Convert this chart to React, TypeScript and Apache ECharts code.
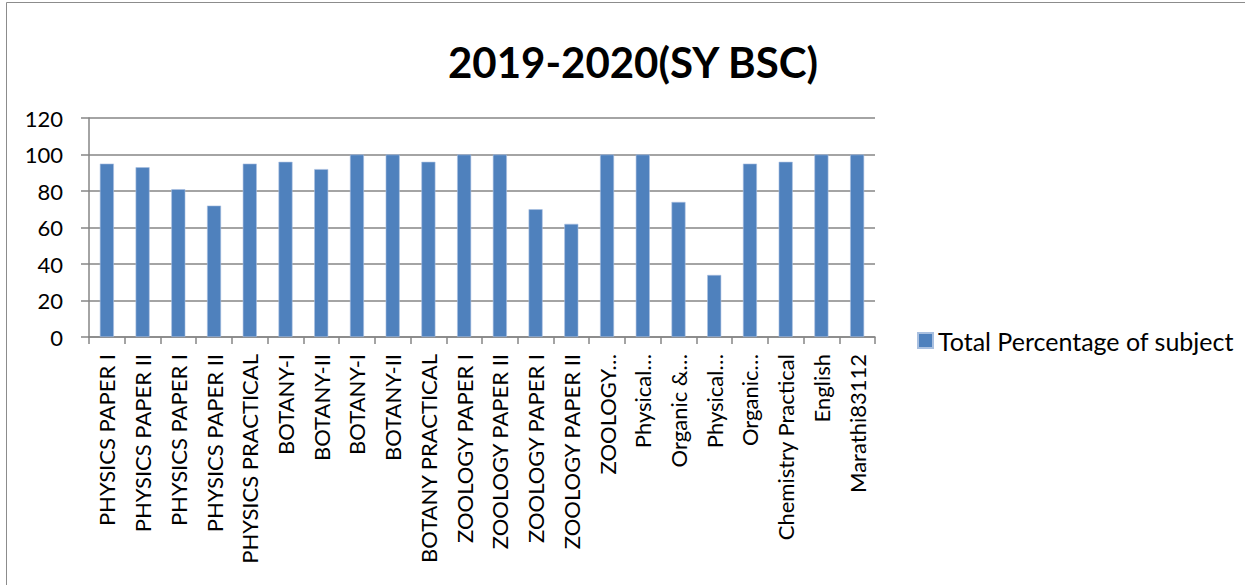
import React, { useEffect, useRef } from "react";
import * as echarts from "echarts";

const titleText = "2019-2020(SY BSC)";
const seriesName = "Total Percentage of subject";
const categories = [
  "PHYSICS PAPER I",
  "PHYSICS PAPER II",
  "PHYSICS PAPER I",
  "PHYSICS PAPER II",
  "PHYSICS PRACTICAL",
  "BOTANY-I",
  "BOTANY-II",
  "BOTANY-I",
  "BOTANY-II",
  "BOTANY PRACTICAL",
  "ZOOLOGY PAPER I",
  "ZOOLOGY PAPER II",
  "ZOOLOGY PAPER I",
  "ZOOLOGY PAPER II",
  "ZOOLOGY…",
  "Physical…",
  "Organic &…",
  "Physical…",
  "Organic…",
  "Chemistry Practical",
  "English",
  "Marathi83112",
];
const values = [95, 93, 81, 72, 95, 96, 92, 100, 100, 96, 100, 100, 70, 62, 100, 100, 74, 34, 95, 96, 100, 100];
const yTicks = { min: 0, max: 120, interval: 20 };

export default function App() {
  const ref = useRef<HTMLDivElement>(null);
  useEffect(() => {
    if (!ref.current) return;
    const chart = echarts.init(ref.current, null, { renderer: "svg" });
    const font = "Lato, 'Open Sans', sans-serif";
    chart.setOption({
      animation: false,
      backgroundColor: "#ffffff",
      graphic: [
        {
          type: "rect",
          shape: { x: 6.5, y: 2.5, width: 1250, height: 600 },
          style: { fill: "none", stroke: "#8c8c8c", lineWidth: 1 },
          silent: true,
        },
        {
          type: "text",
          x: 633,
          y: 62,
          style: {
            text: titleText,
            font: "bold 42px " + font,
            fill: "#000000",
            align: "center",
            verticalAlign: "middle",
          },
        },
      ],
      legend: {
        left: 912,
        top: 323,
        icon: "rect",
        itemWidth: 15,
        itemHeight: 15,
        itemGap: 6,
        textStyle: { fontFamily: font, fontSize: 25, color: "#000000" },
        data: [seriesName],
      },
      grid: {
        left: 89,
        right: 370,
        top: 118,
        bottom: 248,
        containLabel: false,
        outerBoundsMode: "none",
      },
      xAxis: {
        type: "category",
        data: categories,
        axisLine: { lineStyle: { color: "#868686", width: 1.5 } },
        axisTick: { show: true, length: 7, lineStyle: { color: "#868686", width: 1.5 } },
        axisLabel: {
          interval: 0,
          rotate: 90,
          margin: 17,
          fontFamily: font,
          fontSize: 22,
          color: "#000000",
        },
      },
      yAxis: {
        type: "value",
        min: yTicks.min,
        max: yTicks.max,
        interval: yTicks.interval,
        axisLine: { show: true, lineStyle: { color: "#868686", width: 1.5 } },
        axisTick: { show: true, length: 8, lineStyle: { color: "#868686", width: 1.5 } },
        splitLine: { show: true, lineStyle: { color: "#868686", width: 1.5 } },
        axisLabel: { margin: 26, fontFamily: font, fontSize: 22, color: "#000000" },
      },
      series: [
        {
          name: seriesName,
          type: "bar",
          data: values,
          barWidth: 14,
          itemStyle: { color: "#4F81BD", borderColor: "#a9c0e0", borderWidth: 0.6 },
        },
      ],
    });
    return () => chart.dispose();
  }, []);
  return (
    <div
      ref={ref}
      style={{ position: "fixed", left: 0, top: 0, width: 1245, height: 585 }}
    />
  );
}
